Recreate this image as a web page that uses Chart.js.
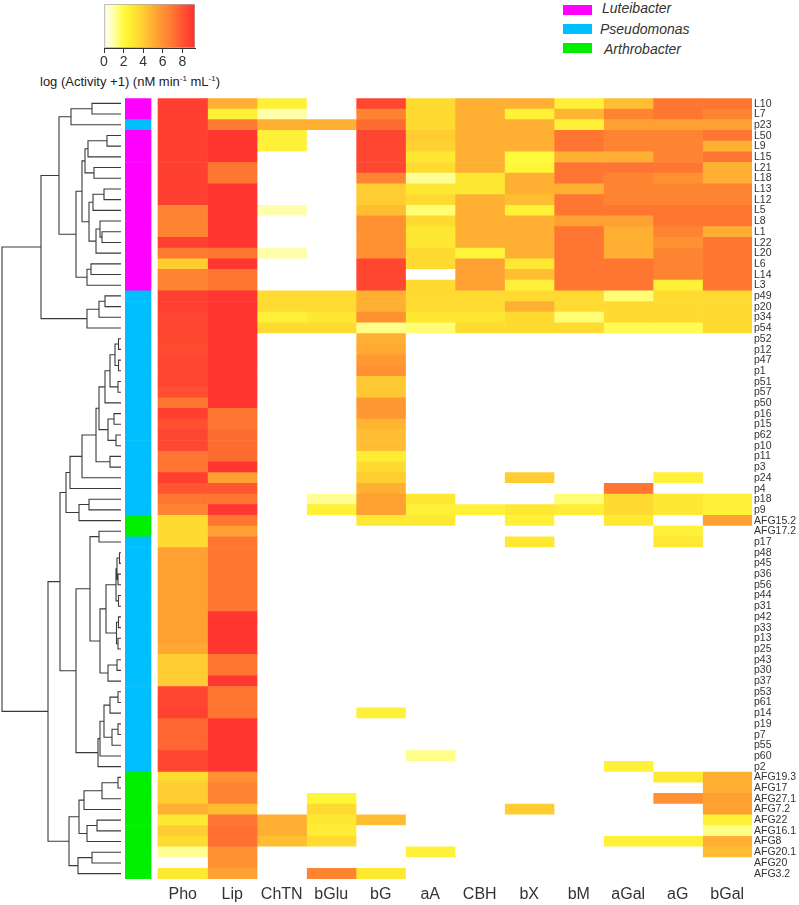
<!DOCTYPE html>
<html lang="en">
<head>
<meta charset="UTF-8">
<title>Enzyme activity heatmap</title>
<script src="https://cdn.jsdelivr.net/npm/chart.js"></script>
<style>
  body { margin: 0; background: #fff; }
  .wrap { position: relative; width: 799px; height: 905px; overflow: hidden; font-family: 'Liberation Sans', Arial, sans-serif; color: #333; }
  canvas { position: absolute; }
  .cbtitle { position: absolute; left: 40px; top: 74px; font-size: 13px; white-space: nowrap; color: #222; }
  .cbtitle sup { font-size: 8px; }
  .leg-box { position: absolute; left: 563px; width: 29px; height: 10px; }
  .leg-txt { position: absolute; font-size: 14px; font-style: italic; white-space: nowrap; color: #333; }
</style>
</head>
<body>
<div class="wrap">
  <canvas id="colorBar" width="120" height="72" style="left:90px;top:0px"></canvas>
  <div class="cbtitle">log (Activity +1) (nM min<sup>-1</sup> mL<sup>-1</sup>)</div>

  <div class="leg-box" style="top:5px;background:#ff00ff"></div>
  <div class="leg-txt" style="left:602px;top:0px">Luteibacter</div>
  <div class="leg-box" style="top:24px;background:#00bfff"></div>
  <div class="leg-txt" style="left:600px;top:21px">Pseudomonas</div>
  <div class="leg-box" style="top:43px;background:#00f000"></div>
  <div class="leg-txt" style="left:604px;top:41px">Arthrobacter</div>

  <canvas id="dendro" width="125" height="781" style="left:0px;top:98px"></canvas>
  <canvas id="heat" width="679" height="815" style="left:120px;top:90px"></canvas>
</div>

<script>
// linhas (isolados) de cima para baixo
const rows = ['L10','L7','p23','L50','L9','L15','L21','L18','L13','L12','L5','L8','L1','L22','L20','L6','L14','L3',
  'p49','p20','p34','p54','p52','p12','p47','p1','p51','p57','p50','p16','p15','p62','p10','p11','p3','p24','p4','p18','p9',
  'AFG15.2','AFG17.2','p17','p48','p45','p36','p56','p44','p31','p42','p33','p13','p25','p43','p30','p37','p53','p61','p14',
  'p19','p7','p55','p60','p2','AFG19.3','AFG17','AFG27.1','AFG7.2','AFG22','AFG16.1','AFG8','AFG20.1','AFG20','AFG3.2'];

// genero de cada isolado: L = Luteibacter, P = Pseudomonas, A = Arthrobacter
const genus = ['L','L','P','L','L','L','L','L','L','L','L','L','L','L','L','L','L','L',
  'P','P','P','P','P','P','P','P','P','P','P','P','P','P','P','P','P','P','P','P','P',
  'A','A','P','P','P','P','P','P','P','P','P','P','P','P','P','P','P','P','P',
  'P','P','P','P','P','A','A','A','A','A','A','A','A','A','A'];

const cols = ['Pho','Lip','ChTN','bGlu','bG','aA','CBH','bX','bM','aGal','aG','bGal'];

// log (Activity + 1), uma lista por enzima
const pho = [8.7,8.7,8.7,8.7,8.7,8.7,8.7,8.7,8.7,8.7, 6.5,6.5,6.5,8.7,6.8,4,6.5,6.5,
  8.7,8.7,8.5,8.5, 8.5,8.3,8.5,8.5,8.5,8.2,7,8.7,8.2, 8.5,8.5,7,7,8.7,8,7,6.5, 3.5,3.5,3.5,
  5.5,5.5,5.5,5.5,5.5,5.5,5.5,5.5,5.5,5.2, 4,4,4, 8.5,8.5,8.7, 7.5,7.5,7.5, 8.5,8.5,
  3.5,4,4,5,3,4,3.5,1.2,0,3];
const lip = [5,2.5,6.8,9,9,9,7,7,9,9, 9,9,9,9,7,9,7,7,
  9,9,9,9, 9,9,9,9,9,9,9,7,7, 7.3,7.3,7.3,9,5.5,8,7,9, 7,5.5,7,
  7,7,7,7,7,7,9,9,9,9, 7,7,9, 7,7,7, 9,9,9, 9,9,
  6,6.5,6.5,4.5,7,7.2,7.2,6,6,5.5];
const chtn = [2.5,1,5,2.5,2.5,0,0,0,0,0, 1,0,0,0,1,0,0,0,
  3.5,3.5,2.5,3.5, 0,0,0,0,0,0,0,0,0, 0,0,0,0,0,0,0,0, 0,0,0,
  0,0,0,0,0,0,0,0,0,0, 0,0,0, 0,0,0, 0,0,0, 0,0,
  0,0,0,0,5,5,4.5,0,0,0];
const bglu = [0,0,5,0,0,0,0,0,0,0, 0,0,0,0,0,0,0,0,
  3.5,3.5,3,3.5, 0,0,0,0,0,0,0,0,0, 0,0,0,0,0,0,1.2,2.5, 0,0,0,
  0,0,0,0,0,0,0,0,0,0, 0,0,0, 0,0,0, 0,0,0, 0,0,
  0,0,2.3,3.5,3,2.8,3.5,0,0,6.5];
const bg = [8.5,6.5,7.3,8.5,8.5,8.5,8.5,6.5,4,4, 4.5,6,6,6,6,8.5,8.5,8.5,
  5,5,6,1.3, 5,5.2,5.8,6,4.2,4.2,5.8,5.8,4.8, 4.5,4.5,2.8,3.5,4,5,5.5,5.5, 3,0,0,
  0,0,0,0,0,0,0,0,0,0, 0,0,0, 0,0,2.5, 0,0,0, 0,0,
  0,0,0,0,4.5,0,0,0,0,3];
const aa = [3.5,3.5,3.5,4,3.8,3,3.5,1.2,3,3.5, 1.5,3.5,3,3,3.5,3.5,0,3.5,
  3.5,3.5,3,1.5, 0,0,0,0,0,0,0,0,0, 0,0,0,0,0,0,3,2.5, 3,0,0,
  0,0,0,0,0,0,0,0,0,0, 0,0,0, 0,0,0, 0,0,0, 1.3,0,
  0,0,0,0,0,0,0,2.5,0,0];
const cbh = [5,5,5,5,5,5,5,3,3,5, 5,5,5,5,2.3,5.5,5.5,5.5,
  3.5,3.5,3,3.5, 0,0,0,0,0,0,0,0,0, 0,0,0,0,0,0,0,2.5, 0,0,0,
  0,0,0,0,0,0,0,0,0,0, 0,0,0, 0,0,0, 0,0,0, 0,0,
  0,0,0,0,0,0,0,0,0,0];
const bx = [5,2.5,5,5,5,2,2.3,5,5,4.5, 2.5,5,5,5,5,3,4.5,2.5,
  3.5,5,3.5,3.5, 0,0,0,0,0,0,0,0,0, 0,0,0,0,4,0,0,3, 2.5,0,3,
  0,0,0,0,0,0,0,0,0,0, 0,0,0, 0,0,0, 0,0,0, 0,0,
  0,0,0,4,0,0,0,0,0,0];
const bm = [2.5,4.8,2.5,7,7,5,7,7,5,7, 7,5.5,7,7,7,7,7,7,
  3.5,3.5,1.5,3.5, 0,0,0,0,0,0,0,0,0, 0,0,0,0,0,0,1.5,2.8, 0,0,0,
  0,0,0,0,0,0,0,0,0,0, 0,0,0, 0,0,0, 0,0,0, 0,0,
  0,0,0,0,0,0,0,0,0,0];
const agal = [4.5,6.5,5.5,6.5,6.5,5,7,6.5,6.5,6.5, 7,5.5,5,5,5,7,7,7,
  1.5,3.5,3.5,1.8, 0,0,0,0,0,0,0,0,0, 0,0,0,0,0,7,3.5,3.5, 3,0,0,
  0,0,0,0,0,0,0,0,0,0, 0,0,0, 0,0,0, 0,0,0, 0,2.5,
  0,0,0,0,0,0,2.5,0,0,0];
const ag = [7,7,5.5,6.5,6.5,6.5,7,6,6.5,6.5, 7,7,6.5,6,6.5,6.5,6.5,2.5,
  3.5,3.5,3.5,1.8, 0,0,0,0,0,0,0,0,0, 0,0,0,0,2.5,0,3,3, 0,2.5,3,
  0,0,0,0,0,0,0,0,0,0, 0,0,0, 0,0,0, 0,0,0, 0,0,
  3,0,6,0,0,0,2.5,0,0,0];
const bgal = [7,6.5,5.5,7,5,7,5,5,6.5,6.5, 7,7,5,7,7,7,7,7,
  3.5,3.5,3.5,3.5, 0,0,0,0,0,0,0,0,0, 0,0,0,0,0,0,2.5,2.5, 5.5,0,0,
  0,0,0,0,0,0,0,0,0,0, 0,0,0, 0,0,0, 0,0,0, 0,0,
  5,5,5.5,5.5,2.5,1.3,5,4.5,0,0];

const colValues = [pho, lip, chtn, bglu, bg, aa, cbh, bx, bm, agal, ag, bgal];

// escala de cores
const scaleMax = 9.3;
const scaleTicks = [0, 2, 4, 6, 8];

// dendrograma: [altura, esquerda, direita]
const tree = [119,
  [80,
    [62,
      [50, [29, 'L10', 'L7'], 'p23'],
      [45,
        [39,
          [36, [33, [14, 'L50', 'L9'], 'L15'], [27, 'L21', 'L18']],
          [32, [28, [17, 'L13', 'L12'], 'L5'], [25, [21, 'L8', [19, 'L1', 'L22']], 'L20']]
        ],
        [34, [30, 'L6', 'L14'], 'L3']
      ]
    ],
    [34, [22, [16, 'p49', 'p20'], 'p34'], 'p54']
  ],
  [73,
    [61,
      [55,
        [51,
          [39,
            [25,
              [22,
                [16, [11, [6, [2.5, 'p52', 'p12'], [2.5, 'p47', 'p1']], [3, 'p51', 'p57']], 'p50'],
                [13, [7, 'p16', 'p15'], [5, 'p62', 'p10']]
              ],
              [11, 'p11', 'p3']
            ],
            'p24'
          ],
          'p4'
        ],
        [42, [32, 'p18', 'p9'], 'AFG15.2']
      ],
      [45,
        [31,
          [22, 'AFG17.2', 'p17'],
          [21,
            [15,
              [5, [4, [1.5, 'p48', 'p45'], [3, 'p36', 'p56']], [2.5, 'p44', 'p31']],
              [4.5, [2.5, 'p42', 'p33'], [3, 'p13', 'p25']]
            ],
            [13, [4, 'p43', 'p30'], 'p37']
          ]
        ],
        [23, [21, [17, [11, [3, 'p53', 'p61'], 'p14'], [9, [3, 'p19', 'p7'], 'p55']], 'p60'], 'p2']
      ]
    ],
    [52,
      [42,
        [37, [19, [3, 'AFG19.3', 'AFG17'], 'AFG27.1'], 'AFG7.2'],
        [34, [24, 'AFG22', 'AFG16.1'], 'AFG8']
      ],
      [43, [29, 'AFG20.1', 'AFG20'], 'AFG3.2']
    ]
  ]
];

// ---------- cores ----------
const genusColor = { L: '#ff00ff', P: '#00bfff', A: '#00f000' };
const stops = [
  [0, [255, 255, 255]], [1, [255, 255, 170]], [2, [255, 250, 60]], [3, [255, 232, 50]],
  [4, [255, 205, 50]], [5, [255, 175, 50]], [6, [255, 145, 50]], [7, [255, 118, 50]],
  [8, [255, 85, 48]], [9, [255, 55, 48]], [9.3, [255, 45, 45]]
];
function heatColor(v) {
  if (v <= 0) return '#ffffff';
  for (let i = 1; i < stops.length; i++) {
    if (v <= stops[i][0]) {
      const [v0, c0] = stops[i - 1], [v1, c1] = stops[i];
      const t = (v - v0) / (v1 - v0);
      const c = c0.map((x, k) => Math.round(x + (c1[k] - x) * t));
      return `rgb(${c[0]},${c[1]},${c[2]})`;
    }
  }
  const c = stops[stops.length - 1][1];
  return `rgb(${c[0]},${c[1]},${c[2]})`;
}

const sans = "'Liberation Sans', Arial, sans-serif";

// ---------- barra de cores ----------
new Chart(document.getElementById('colorBar'), {
  type: 'bar',
  data: {
    labels: [''],
    datasets: [{
      data: [[0, scaleMax]],
      backgroundColor: (ctx) => {
        const chart = ctx.chart;
        const area = chart.chartArea;
        if (!area) return '#fff';
        const x = chart.scales.x;
        const g = chart.ctx.createLinearGradient(x.getPixelForValue(0), 0, x.getPixelForValue(scaleMax), 0);
        stops.forEach(([v, c]) => g.addColorStop(v / scaleMax, `rgb(${c[0]},${c[1]},${c[2]})`));
        return g;
      },
      borderColor: '#aaa',
      borderWidth: 1,
      borderSkipped: false,
      barPercentage: 1,
      categoryPercentage: 1
    }]
  },
  options: {
    indexAxis: 'y',
    responsive: false,
    animation: false,
    layout: { padding: { left: 14, right: 15, top: 4, bottom: 0 } },
    plugins: { legend: { display: false }, tooltip: { enabled: false } },
    scales: {
      x: {
        type: 'linear', min: 0, max: scaleMax,
        afterBuildTicks: (s) => { s.ticks = scaleTicks.map(v => ({ value: v })); },
        afterFit: (s) => { s.height = 24; },
        grid: { drawOnChartArea: false, drawTicks: true, tickLength: 5, color: '#333' },
        border: { display: true, color: '#333' },
        ticks: { font: { size: 14, family: sans }, color: '#333', padding: 1 }
      },
      y: { display: false }
    }
  }
});

// ---------- dendrograma ----------
const segs = [];
function walk(node) {
  if (typeof node === 'string') return { h: 0, y: rows.indexOf(node) };
  const [h, l, r] = node;
  const a = walk(l), b = walk(r);
  segs.push({ x: a.h, y: a.y }, { x: h, y: a.y }, { x: h, y: b.y }, { x: b.h, y: b.y }, { x: null, y: null });
  return { h, y: (a.y + b.y) / 2 };
}
walk(tree);

new Chart(document.getElementById('dendro'), {
  type: 'scatter',
  data: {
    datasets: [{
      data: segs,
      showLine: true,
      spanGaps: false,
      pointRadius: 0,
      borderColor: '#3a3a3a',
      borderWidth: 1.1
    }]
  },
  options: {
    responsive: false,
    animation: false,
    layout: { padding: 0 },
    plugins: { legend: { display: false }, tooltip: { enabled: false } },
    scales: {
      x: { type: 'linear', reverse: true, min: -4, max: 121, display: false },
      y: { type: 'linear', reverse: true, min: -0.5, max: rows.length - 0.5, display: false }
    }
  }
});

// ---------- heatmap ----------
const heatSets = [{
  data: rows.map(() => [-0.667, -0.141]),
  backgroundColor: genus.map(g => genusColor[g])
}].concat(colValues.map((vals, j) => ({
  data: rows.map(() => [j, j + 1]),
  backgroundColor: vals.map(heatColor)
})));
heatSets.forEach(d => {
  d.grouped = false;
  d.barPercentage = 1;
  d.categoryPercentage = 1;
  d.borderWidth = 0;
});

new Chart(document.getElementById('heat'), {
  type: 'bar',
  data: { labels: rows, datasets: heatSets },
  options: {
    indexAxis: 'y',
    responsive: false,
    animation: false,
    layout: { padding: { left: 5, top: 8, right: 0, bottom: 0 } },
    plugins: { legend: { display: false }, tooltip: { enabled: false } },
    scales: {
      x: {
        type: 'linear', min: -0.667, max: cols.length,
        afterBuildTicks: (s) => { s.ticks = cols.map((c, i) => ({ value: i + 0.5 })); },
        afterFit: (s) => { s.height = 26; },
        grid: { display: false, drawTicks: false },
        border: { display: false },
        ticks: {
          autoSkip: false, maxRotation: 0, padding: 6, color: '#333',
          font: { size: 16, family: sans },
          callback: (v, i) => cols[i]
        }
      },
      y: {
        type: 'category', position: 'right',
        afterFit: (s) => { s.width = 47; },
        grid: { display: false, drawTicks: false },
        border: { display: false },
        ticks: { autoSkip: false, padding: 2, color: '#333', font: { size: 10.5, family: sans } }
      }
    }
  }
});
</script>
</body>
</html>
